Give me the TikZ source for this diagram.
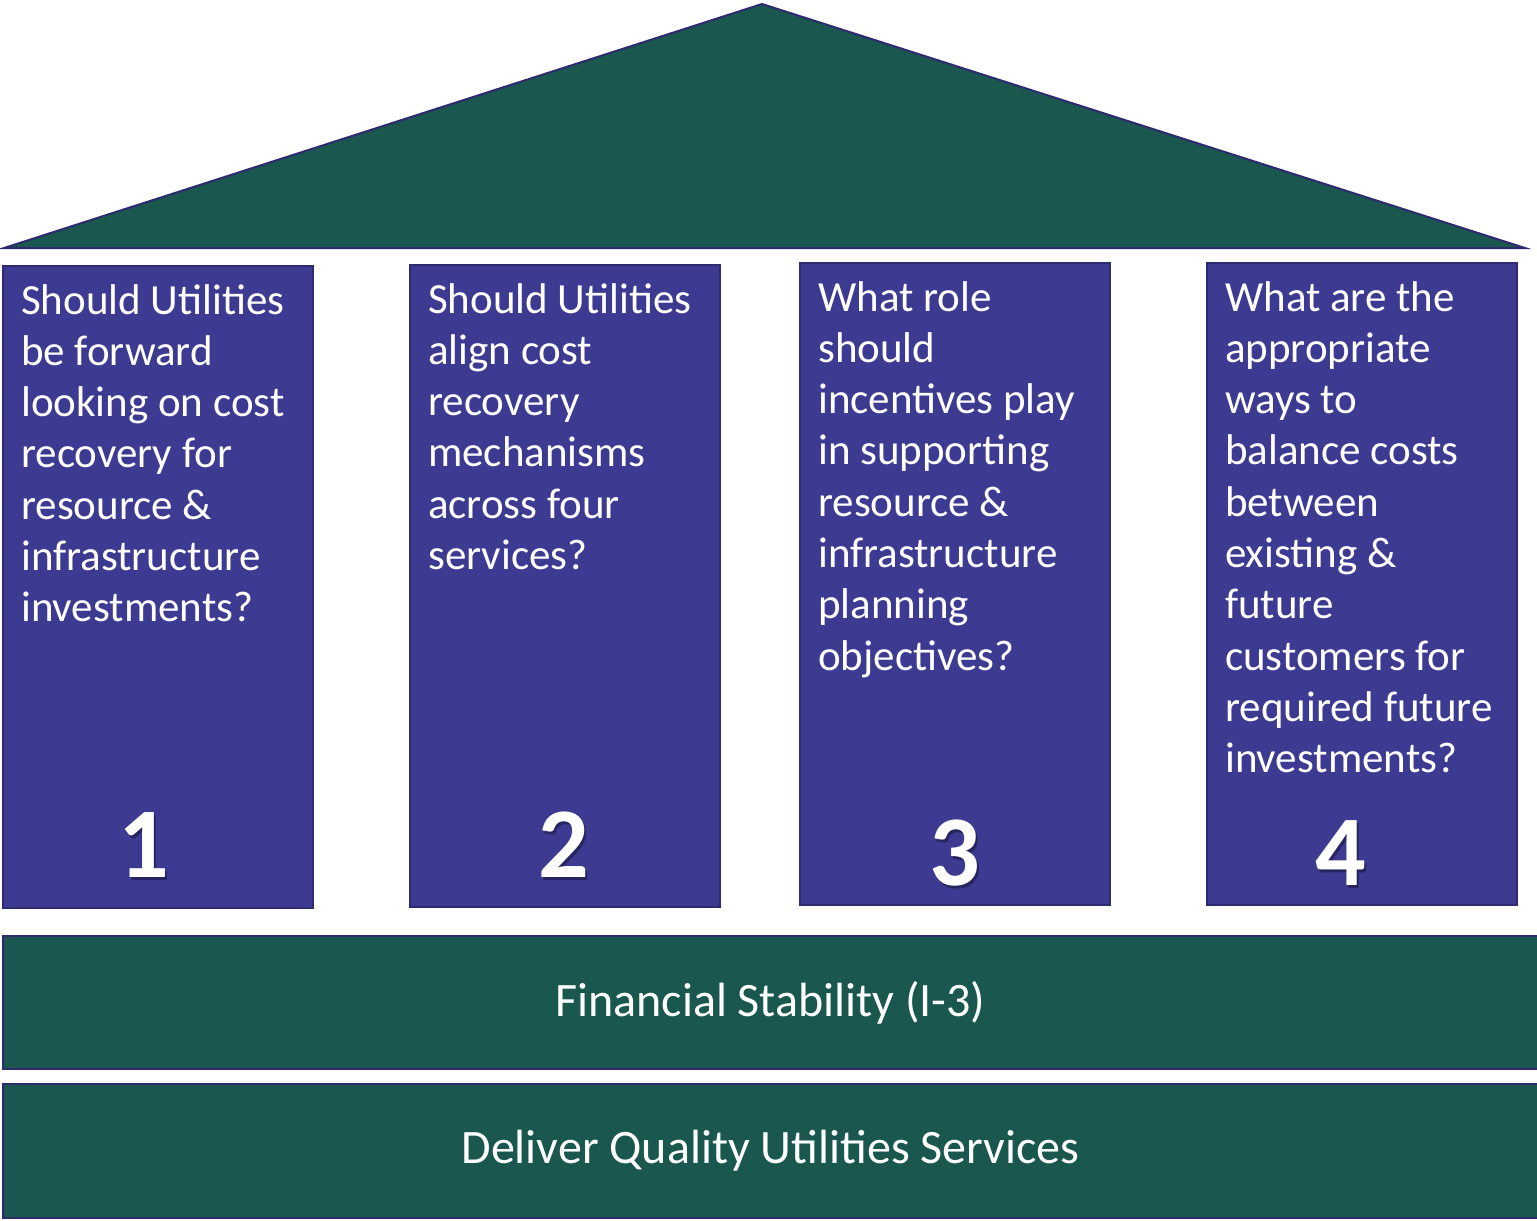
\documentclass[tikz,border=0pt]{standalone}
\usepackage{fontspec}
\setmainfont{Carlito}
\usetikzlibrary{positioning}
\tikzstyle{house} = [x = 1pt, y = -1pt]
\definecolor{roofColor}{HTML}{1A574F}
\definecolor{pillarColor}{HTML}{3D3A92}
\definecolor{edgeColor}{HTML}{2E2A6E}
\tikzstyle{roofStyle} = [draw=edgeColor, fill=roofColor, line width=2pt, line join=miter]
\tikzstyle{pillarStyle} = [draw=edgeColor, fill=pillarColor, line width=2pt, anchor=north west, inner sep=0pt, minimum width=310pt, minimum height=642pt]
\tikzstyle{pillarText} = [anchor=north west, align=left, text=white, inner sep=0pt, font=\fontsize{43}{51.3}\selectfont]
\tikzstyle{numberText} = [text=white, inner sep=0pt, font=\fontsize{100}{100}\selectfont\bfseries]
\tikzstyle{numberShadow} = [numberText, text=black, opacity=0.35]
\tikzstyle{bandStyle} = [draw=edgeColor, fill=roofColor, line width=2pt, anchor=north west, minimum width=1535pt, text=white, font=\fontsize{48}{56}\selectfont]
% pillar: name, left, top, number, number centre x, number centre y, question
\newcommand{\pillarBox}[7]{
  \node [pillarStyle] (#1) at (#2, #3) {};
  \node [pillarText] (#1Text) at (#2 + 19, #3 + 19) {#7};
  \node [numberShadow] (#1Shadow) at (#5 + 2, #6 + 3) {#4};
  \node [numberText] (#1Number) at (#5, #6) {#4};
}

\begin{document}
\begin{tikzpicture}[house]
  \useasboundingbox (0,0) rectangle (1537,1221);

  % roof
  \coordinate (roofLeft) at (4,248);
  \coordinate (roofTop) at (762,4);
  \coordinate (roofRight) at (1525,248);
  \draw [roofStyle] (roofLeft) -- (roofTop) -- (roofRight) -- cycle;

  % pillars
  \pillarBox{pillarOne}{2}{265}{1}{144}{845}{Should Utilities\\be forward\\looking on cost\\recovery for\\resource \&\\infrastructure\\investments?}
  \pillarBox{pillarTwo}{409}{264}{2}{564}{845}{Should Utilities\\align cost\\recovery\\mechanisms\\across four\\services?}
  \pillarBox{pillarThree}{799}{262}{3}{955}{853}{What role\\should\\incentives play\\in supporting\\resource \&\\infrastructure\\planning\\objectives?}
  \pillarBox{pillarFour}{1206}{262}{4}{1341}{853}{What are the\\appropriate\\ways to\\balance costs\\between\\existing \&\\future\\customers for\\required future\\investments?}

  % foundation
  \node [bandStyle, minimum height=133pt] (stability) at (2,935) {Financial Stability (I-3)};
  \node [bandStyle, minimum height=134pt] (services) at (2,1083) {Deliver Quality Utilities Services};
\end{tikzpicture}
\end{document}
